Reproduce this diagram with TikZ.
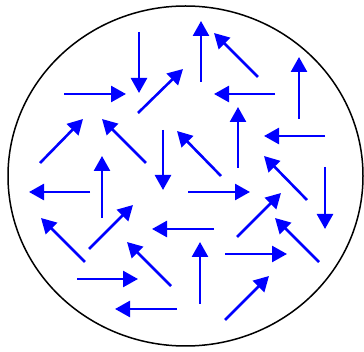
\documentclass[tikz,border=0pt]{standalone}
\usetikzlibrary{arrows.meta}
\begin{document}
\begin{tikzpicture}[x=1pt,y=-1pt,
  vec/.style={draw=blue,line width=2.6pt,-{Triangle[length=15pt,width=16pt]}},
  rim/.style={draw=black,line width=1.5pt}]
\useasboundingbox (0,0) rectangle (364,352);
\draw[rim] (185.5,176) ellipse [x radius=177.5, y radius=170];
\foreach \ax/\ay/\bx/\by in {
  139/32/139/93, 64/94/126/94, 138/113/183/69, 40/163/83/119,
  146/163/102/119, 102/218/102/156, 163/130/163/190, 221/176/177/131,
  201/82/201/21, 258/77/214/33, 275/94/214/94, 299/119/299/57,
  238/168/238/107, 325/136/264/136, 307/200/264/156, 325/167/325/229,
  90/192/29/192, 89/249/133/205, 85/262/41/218, 214/229/152/229,
  171/286/127/242, 77/279/138/279, 177/309/115/309,
  188/192/250/192, 237/237/281/193, 319/262/275/218, 200/304/200/242,
  225/254/287/254, 225/320/269/276}
  \draw[vec] (\ax,\ay) -- (\bx,\by);
\end{tikzpicture}
\end{document}
